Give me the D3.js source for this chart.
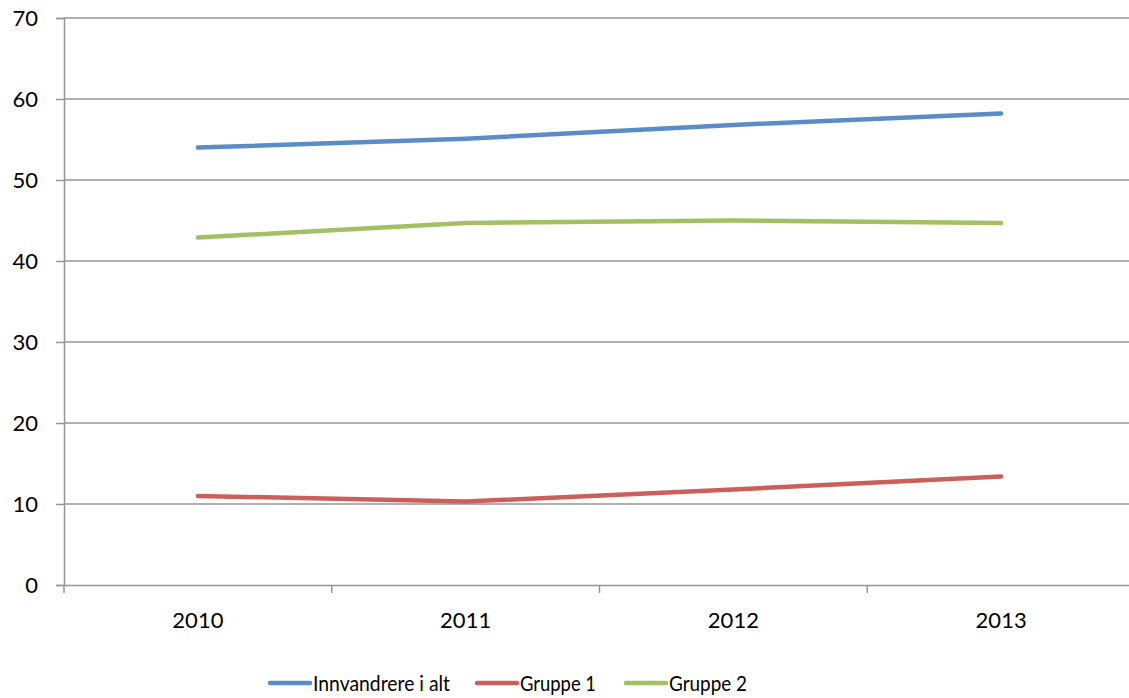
<!DOCTYPE html>
<html><head><meta charset="utf-8">
<script src="https://cdn.jsdelivr.net/npm/d3@7"></script>
<style>
html,body{margin:0;padding:0;background:#fff;}
svg{display:block;font-family:Lato,"Open Sans",sans-serif;}
</style></head>
<body>
<svg id="chart" width="1129" height="698"></svg>
<script>
const years = ["2010","2011","2012","2013"];
const seriesNames = ["Innvandrere i alt","Gruppe 1","Gruppe 2"];
const innvandrere = [54.0, 55.1, 56.8, 58.2];
const gruppe1 = [11.0, 10.3, 11.8, 13.4];
const gruppe2 = [42.9, 44.7, 45.0, 44.7];
const yTicks = [0,10,20,30,40,50,60,70];
const colors = ["#5A8DC8","#CC5F5A","#A3C163"];

(function(){
const series = [innvandrere, gruppe1, gruppe2].map((v,i)=>({name:seriesNames[i], values:v, color:colors[i]}));

const svg = d3.select("#chart");
const mLeft = 64, mRight = 1135, mTop = 18, mBottom = 585;

const x = d3.scaleBand().domain(years).range([mLeft, mRight]);
const y = d3.scaleLinear().domain([0,70]).range([mBottom, mTop]);

// gridlines
svg.append("g").selectAll("line").data(yTicks.filter(d=>d>0)).join("line")
  .attr("x1", mLeft).attr("x2", mRight)
  .attr("y1", d=>y(d)).attr("y2", d=>y(d))
  .attr("stroke", "#969696").attr("stroke-width", 1.5);

// y axis
const yAxis = d3.axisLeft(y).tickValues(yTicks).tickSize(8).tickPadding(18).tickFormat(d3.format("d"));
const gy = svg.append("g").attr("transform", `translate(${mLeft},0)`).call(yAxis);
gy.select(".domain").attr("stroke","#969696").attr("stroke-width",1.5);
gy.selectAll(".tick line").attr("stroke","#969696").attr("stroke-width",1.5);
gy.selectAll(".tick text").attr("font-size","22px").attr("fill","#000").attr("font-family","Lato, sans-serif");

// x axis
const xAxis = d3.axisBottom(x).tickSize(0).tickPadding(27);
const gx = svg.append("g").attr("transform", `translate(0,${mBottom})`).call(xAxis);
gx.select(".domain").attr("stroke","#969696").attr("stroke-width",1.5);
gx.selectAll(".tick text").attr("font-size","22px").attr("fill","#000").attr("font-family","Lato, sans-serif");
// category boundary ticks
svg.append("g").selectAll("line").data(years).join("line")
  .attr("x1", d=>x(d)).attr("x2", d=>x(d))
  .attr("y1", mBottom).attr("y2", mBottom+8)
  .attr("stroke","#969696").attr("stroke-width",1.5);

// lines
const line = d3.line().x((d,i)=>x(years[i]) + x.bandwidth()/2).y(d=>y(d));
svg.append("g").selectAll("path").data(series).join("path")
  .attr("d", d=>line(d.values))
  .attr("fill","none").attr("stroke", d=>d.color)
  .attr("stroke-width", 4.5).attr("stroke-linecap","round").attr("stroke-linejoin","round");

// legend
const legendX = [270, 477, 626];
const legendW = [137, 76, 78];
const lg = svg.append("g").selectAll("g").data(series).join("g")
  .attr("transform", (d,i)=>`translate(${legendX[i]},683)`);
lg.append("line").attr("x1",0).attr("x2",40).attr("y1",0).attr("y2",0)
  .attr("stroke", d=>d.color).attr("stroke-width",4.5).attr("stroke-linecap","round");
lg.append("text").attr("x",43).attr("y",0).attr("dy","0.36em")
  .attr("font-size","22px").attr("fill","#000")
  .attr("textLength",(d,i)=>legendW[i]).attr("lengthAdjust","spacingAndGlyphs")
  .text(d=>d.name);
})();
</script>
</body></html>
